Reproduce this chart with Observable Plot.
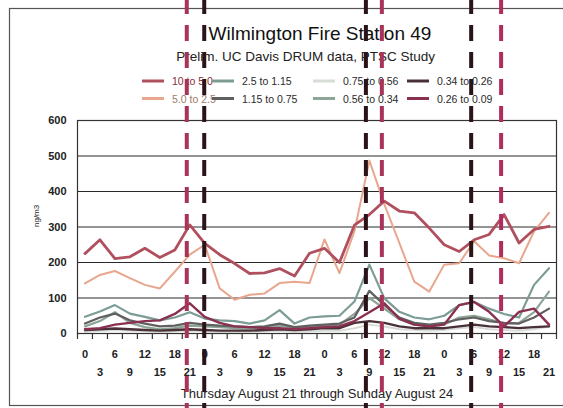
<!DOCTYPE html>
<html><head><meta charset="utf-8">
<script src="https://cdn.jsdelivr.net/npm/d3@7"></script>
<script src="https://cdn.jsdelivr.net/npm/@observablehq/plot@0.6"></script>
<style>body{margin:0;background:#fff}svg{display:block}</style>
</head><body><div id="chart"></div>
<script>
const FONT = "'Liberation Sans', Arial, sans-serif";

// 3-hour DRUM slots, Thursday Aug 21 through Sunday Aug 24
const slotLabels = ["0","3","6","9","12","15","18","21",
                    "0","3","6","9","12","15","18","21",
                    "0","3","6","9","12","15","18","21",
                    "0","3","6","9","12","15","18","21"];

const seriesNames = ["10 to 5.0","5.0 to 2.5","2.5 to 1.15","1.15 to 0.75",
                     "0.75 to 0.56","0.56 to 0.34","0.34 to 0.26","0.26 to 0.09"];
const seriesColors = ["#b0505e","#e8a68e","#7c9c96","#606060",
                      "#d8dcd6","#8da596","#4a3038","#8a3050"];
const seriesWidths = [2.8,2,2.2,2.2,2,2.2,2.4,2.4];

const s10to5   = [225,264,211,216,240,214,235,306, 254,222,197,169,171,183,162,226, 240,200,305,335,373,345,340,297, 250,231,264,279,335,255,293,302];
const s5to25   = [141,165,176,156,137,127,174,222, 250,127,95,109,113,142,146,142, 265,170,288,487,364,255,146,118, 194,198,260,220,212,198,288,340];
const s25to115 = [47,62,80,56,47,37,45,60, 42,37,35,28,37,66,28,45, 48,50,90,194,99,61,45,40, 50,80,89,70,55,45,137,184];
const s115to75 = [28,45,56,37,28,20,22,30, 25,22,20,18,20,28,18,22, 25,28,45,120,80,45,30,25, 30,40,45,35,30,28,45,70];
const s75to56  = [5,8,10,8,6,5,6,8, 6,5,5,5,6,8,5,6, 8,8,15,25,20,12,10,8, 10,15,18,12,10,8,12,20];
const s56to34  = [20,35,60,30,18,12,15,22, 20,18,15,14,18,22,16,20, 22,25,55,100,70,40,25,20, 25,45,50,40,28,30,60,118];
const s34to26  = [10,12,14,12,10,8,10,12, 10,8,8,8,10,12,10,12, 15,15,30,35,30,20,15,15, 15,20,25,20,18,15,18,20];
const s26to09  = [12,15,25,30,35,37,55,85, 47,30,20,18,15,15,12,15, 18,20,35,60,85,42,25,20, 25,80,89,61,20,61,70,25];
const seriesValues = [s10to5,s5to25,s25to115,s115to75,s75to56,s56to34,s34to26,s26to09];

const yTicks = [0,100,200,300,400,500,600];
// event markers (hours from Thursday 0:00)
const eventHours  = [20.5, 24, 56.4, 59.6, 77.5, 83.5];
const eventColors = ["#a8345a","#2a1418","#2a1418","#a8345a","#2a1418","#b02c5c"];

const titleText = "Wilmington Fire Station 49";
const subtitleText = "Prelim. UC Davis DRUM data, PTSC Study";
const xTitle = "Thursday August 21 through Sunday August 24";
const yTitle = "ng/m3";

// build tables
const slots = slotLabels.map((label, i) => ({label, hour: i * 3, row: i % 2}));
const boundaries = slotLabels.map((_, i) => i * 3 - 1.5).concat([slotLabels.length * 3 - 1.5]);
const rowsFor = s => seriesValues[s].map((v, i) => ({series: seriesNames[s], hour: i * 3, value: v}));
const drawOrder = [4,5,3,2,6,7,1,0];

function outerBox(index, scales, values, {width, height}) {
  const g = d3.create("svg:g");
  g.append("rect").attr("x", 9.5).attr("y", 8.5).attr("width", width).attr("height", height - 11)
    .attr("fill", "none").attr("stroke", "#555").attr("stroke-width", 1.2);
  return g.node();
}

function header(index, scales, values, dims) {
  const g = d3.create("svg:g").attr("font-family", FONT);
  g.append("text").attr("x", 320).attr("y", 40).attr("text-anchor", "middle")
    .attr("font-size", 19).attr("fill", "#111").text(titleText);
  g.append("text").attr("x", 435).attr("y", 61).attr("text-anchor", "end")
    .attr("font-size", 13.5).attr("fill", "#222").text(subtitleText);
  const colX = [172, 242, 343, 437];
  const rowY = [81, 98.5];
  const textCol = ["#8a2a38","#a07a6a","#2a2a2a","#2a2a2a","#2a2a2a","#2a2a2a","#2a2a2a","#2a2a2a"];
  seriesNames.forEach((name, k) => {
    const c = Math.floor(k / 2), r = k % 2;
    g.append("line").attr("x1", colX[c] - 30).attr("x2", colX[c] - 8)
      .attr("y1", rowY[r]).attr("y2", rowY[r])
      .attr("stroke", seriesColors[k]).attr("stroke-width", 3);
    g.append("text").attr("x", colX[c]).attr("y", rowY[r] + 4).attr("text-anchor", "start")
      .attr("font-size", 10.5).attr("fill", textCol[k]).text(name);
  });
  return g.node();
}

function eventRules(index, {x}, values, {height}) {
  const g = d3.create("svg:g");
  eventHours.forEach((h, k) => {
    g.append("line").attr("x1", x(h)).attr("x2", x(h)).attr("y1", -2).attr("y2", height)
      .attr("stroke", eventColors[k]).attr("stroke-width", 4).attr("stroke-dasharray", "16,11");
  });
  return g.node();
}

const chart = Plot.plot({
  width: 563, height: 408,
  marginLeft: 77, marginRight: 7, marginTop: 120, marginBottom: 75,
  style: {fontFamily: FONT, background: "#fff", color: "#222"},
  x: {domain: [-1.5, slotLabels.length * 3 - 1.5], axis: null},
  y: {domain: [0, 600], axis: null},
  marks: [
    outerBox,
    header,
    Plot.gridY(yTicks, {stroke: "#2a2a2a", strokeOpacity: 1, strokeWidth: 1.2}),
    ...drawOrder.map(s => Plot.line(rowsFor(s), {x: "hour", y: "value", stroke: seriesColors[s], strokeWidth: seriesWidths[s]})),
    Plot.frame({stroke: "#333", strokeWidth: 1.2}),
    Plot.axisY({ticks: yTicks, tickSize: 0, tickPadding: 11, fontSize: 11, fontWeight: "bold", label: null}),
    Plot.axisX({ticks: boundaries, tickSize: 6, tickFormat: () => "", label: null, stroke: "#333", strokeWidth: 1.2}),
    Plot.text(slots.filter(d => d.row === 0), {x: "hour", text: "label", frameAnchor: "bottom", dy: 24, fontSize: 11, fontWeight: "bold", fill: "#222"}),
    Plot.text(slots.filter(d => d.row === 1), {x: "hour", text: "label", frameAnchor: "bottom", dy: 42, fontSize: 11, fontWeight: "bold", fill: "#222"}),
    Plot.text([xTitle], {frameAnchor: "bottom", dy: 64, fontSize: 13, fill: "#222"}),
    Plot.text([yTitle], {frameAnchor: "left", dx: -41, rotate: -90, fontSize: 8, fill: "#222"}),
    eventRules
  ]
});
document.getElementById("chart").append(chart);
</script>
</body></html>
